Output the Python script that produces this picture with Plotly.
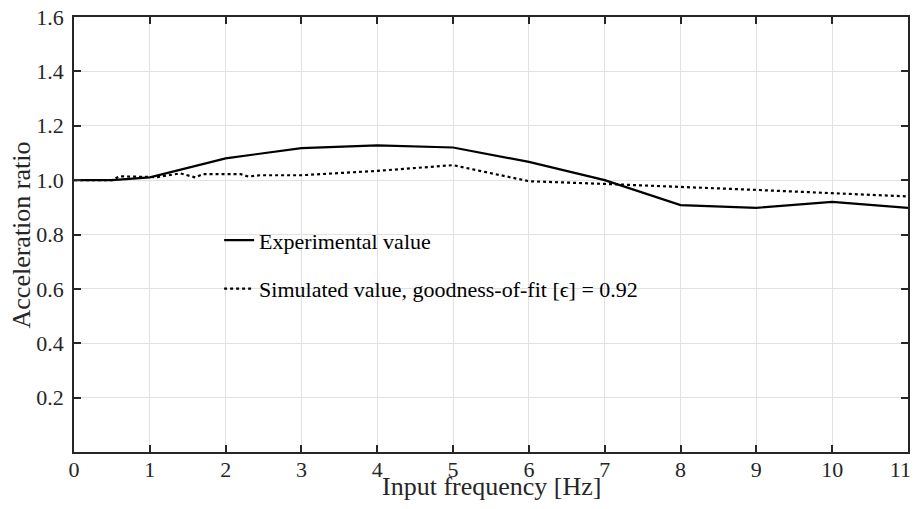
import plotly.graph_objects as go

exp_x = [0, 0.5, 1, 2, 3, 4, 5, 6, 7, 8, 9, 10, 11]
exp_y = [1.0, 1.0, 1.01, 1.08, 1.118, 1.128, 1.12, 1.067, 1.0, 0.908, 0.898, 0.92, 0.898]

sim_x = [0, 0.5, 0.6, 1.0, 1.1, 1.4, 1.6, 1.7, 2.2, 2.3, 2.45, 3.0, 4.0, 5.0, 6.0, 7.0, 8.0, 9.0, 10.0, 11.0]
sim_y = [1.0, 1.0, 1.014, 1.012, 1.011, 1.025, 1.01, 1.022, 1.022, 1.013, 1.018, 1.018, 1.034, 1.055, 0.996, 0.986, 0.976, 0.964, 0.952, 0.94]

x_ticks = list(range(0, 12))
y_ticks = [0.2, 0.4, 0.6, 0.8, 1.0, 1.2, 1.4, 1.6]

exp_name = "Experimental value"
sim_name = "Simulated value, goodness-of-fit [ϵ] = 0.92"
x_title = "Input frequency [Hz]"
y_title = "Acceleration ratio"

font_family = "Liberation Serif, Times New Roman, serif"
txt = "#262626"

fig = go.Figure()
fig.add_trace(go.Scatter(x=exp_x, y=exp_y, mode="lines", name=exp_name,
                         line=dict(color="black", width=2.2), legendgroup="a"))
fig.add_trace(go.Scatter(x=sim_x, y=sim_y, mode="lines", name=sim_name,
                         line=dict(color="black", width=2.2, dash="dot"), legendgroup="b"))

axis_common = dict(showline=True, linecolor=txt, linewidth=1.5, mirror="ticks",
                   ticks="inside", ticklen=7, tickcolor=txt, tickwidth=1.5,
                   showgrid=True, gridcolor="#e2e2e2", gridwidth=1.3, zeroline=False,
                   automargin=False, ticklabeloverflow="allow",
                   tickfont=dict(family=font_family, size=22, color=txt))

# the last label gets trailing spacing so that it stays fully inside the window
x_ticktext = [str(v) for v in x_ticks]
x_ticktext[-1] = x_ticktext[-1] + "\u2002\u2009"

fig.update_xaxes(range=[0, 11], tickvals=x_ticks, ticktext=x_ticktext,
                 ticklabelstandoff=-3, **axis_common)
fig.update_yaxes(range=[0, 1.6], tickvals=y_ticks, ticktext=[f"{v:.1f}" for v in y_ticks],
                 ticklabelstandoff=4, **axis_common)

fig.add_annotation(text=x_title, xref="paper", yref="paper", x=0.5, y=-0.08,
                   xanchor="center", yanchor="middle", showarrow=False,
                   font=dict(family=font_family, size=26, color=txt))
fig.add_annotation(text=y_title, xref="paper", yref="paper", x=-0.0624, y=0.5,
                   xanchor="center", yanchor="middle", textangle=-90, showarrow=False,
                   font=dict(family=font_family, size=26, color=txt))

# page body has an 8px margin, so the figure is offset by 8px right and down;
# size the figure so that it ends exactly at the window's right and bottom edges
fig.update_layout(
    width=910, height=493,
    margin=dict(l=66, r=10, t=9, b=49),
    plot_bgcolor="white", paper_bgcolor="white",
    font=dict(family=font_family, color=txt),
    showlegend=True,
    legend=dict(x=0.174, y=0.535, xanchor="left", yanchor="top",
                bgcolor="rgba(0,0,0,0)", font=dict(family=font_family, size=22, color="black"),
                itemwidth=30, tracegroupgap=17),
)

fig.write_html("out.html")
